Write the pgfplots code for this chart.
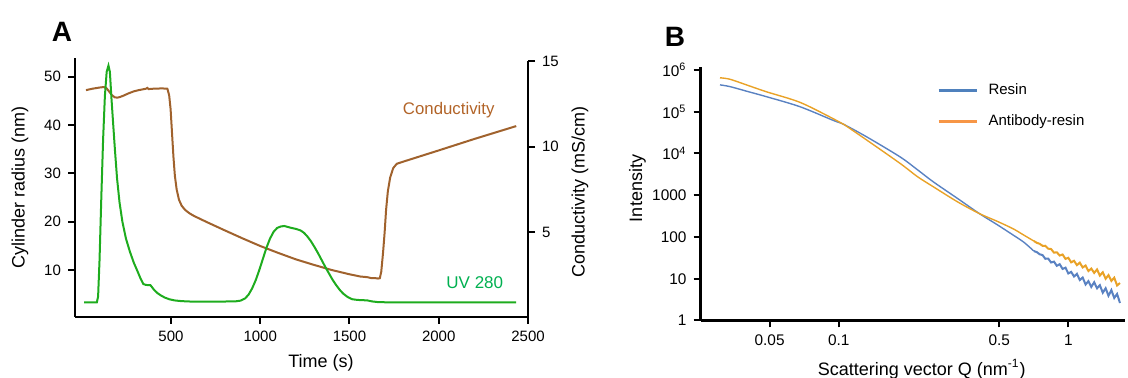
\documentclass[border=0pt]{standalone}
\usepackage{pgfplots}
\pgfplotsset{compat=1.18}
\usepackage{fontspec}
\setmainfont{Liberation Sans}
\definecolor{uvgreen}{RGB}{30,172,30}
\definecolor{uvtext}{RGB}{0,176,80}
\definecolor{condbrown}{RGB}{160,98,45}
\definecolor{condtext}{RGB}{178,100,40}
\definecolor{resinblue}{RGB}{90,130,194}
\definecolor{abyorange}{RGB}{233,162,39}
\definecolor{legblue}{RGB}{79,129,189}
\definecolor{legorange}{RGB}{247,150,70}
\begin{document}
\begin{tikzpicture}
\path[use as bounding box] (0,0) rectangle (564pt,189pt);
\pgfplotsset{every axis/.append style={scale only axis,
  font=\fontsize{7.5}{9}\selectfont,
  tick align=outside, major tick length=3.5pt,
  tick style={black, line width=1pt},
  minor tick style={draw=none},
  axis line style={black, line width=1.3pt}}}
% ---------------- Panel A, right axis (conductivity)
\begin{axis}[at={(37.5pt,30.5pt)}, anchor=south west, width=226.5pt, height=128pt,
  xmin=-37.4, xmax=2500, ymin=0.056, ymax=15,
  axis x line=none, axis y line*=right,
  ytick={5,10,15}, yticklabels={5,10,15}]
\addplot[condbrown, line width=1pt] coordinates {
(24,13.3)(60,13.38)(100,13.45)(125,13.48)(140,13.4)(155,13.2)(170,13.0)(185,12.88)
(200,12.86)(215,12.9)(235,12.98)(260,13.1)(290,13.22)(320,13.3)(345,13.35)(360,13.38)
(368,13.43)(375,13.36)(400,13.38)(450,13.4)(480,13.38)(490,13.0)(498,12.2)(506,10.8)
(514,9.4)(522,8.3)(532,7.5)(545,6.9)(560,6.55)(580,6.3)(605,6.1)(630,5.95)(700,5.6)
(800,5.12)(900,4.65)(1000,4.2)(1100,3.8)(1200,3.42)(1300,3.1)(1400,2.8)(1500,2.55)
(1560,2.42)(1600,2.38)(1620,2.33)(1640,2.33)(1660,2.3)(1670,2.32)(1678,2.7)(1688,3.8)
(1697,5.0)(1705,6.3)(1715,7.4)(1728,8.2)(1745,8.75)(1765,9.0)(1800,9.12)(2000,9.78)
(2200,10.45)(2434,11.2)};
\end{axis}
% ---------------- Panel A, left axis (UV / cylinder radius)
\begin{axis}[at={(37.5pt,30.5pt)}, anchor=south west, width=226.5pt, height=129.5pt,
  xmin=-37.4, xmax=2500, ymin=0.27, ymax=53.87,
  axis x line*=bottom, axis y line*=left,
  xtick={500,1000,1500,2000,2500}, xticklabels={500,1000,1500,2000,2500},
  ytick={10,20,30,40,50}, yticklabels={10,20,30,40,50},
  clip=false]
\addplot[uvgreen, line width=1pt] coordinates {
(14,3.3)(85,3.3)(92,4.5)(100,12)(110,25)(120,37)(130,46)(140,51)(150,52.3)(158,51)
(166,46)(175,41)(186,35)(198,29)(212,24)(228,20)(248,16.5)(270,13.8)(292,11.5)(312,9.8)
(330,8.2)(345,7.1)(360,6.9)(385,6.85)(395,6.4)(405,5.9)(425,5.2)(445,4.7)(465,4.3)
(490,3.95)(520,3.7)(560,3.55)(620,3.45)(750,3.45)(860,3.5)(890,3.65)(915,4.1)(935,4.9)
(955,6.2)(975,7.9)(995,10.0)(1015,12.3)(1035,14.6)(1055,16.5)(1075,17.9)(1095,18.7)
(1115,19.0)(1135,19.1)(1155,18.9)(1175,18.7)(1200,18.5)(1225,18.2)(1245,17.7)(1265,16.9)
(1285,15.9)(1305,14.7)(1325,13.4)(1345,12.0)(1365,10.6)(1385,9.3)(1405,8.0)(1425,6.9)
(1445,5.9)(1465,5.1)(1490,4.4)(1515,3.95)(1545,3.8)(1575,3.75)(1600,3.7)(1625,3.5)
(1660,3.35)(1720,3.3)(2434,3.3)};
\node[text=condtext, font=\fontsize{8.4}{10}\selectfont] at (axis cs:2056,43.1) {Conductivity};
\node[text=uvtext, font=\fontsize{8.5}{10}\selectfont] at (axis cs:2202,7.44) {UV 280};
\end{axis}
% ---------------- Panel B
\begin{axis}[at={(350.25pt,28.75pt)}, anchor=south west, width=212.25pt, height=126.9pt,
  xmode=log, ymode=log, xmin=0.025, xmax=1.766, ymin=1, ymax=1.2e6,
  axis x line*=bottom, axis y line*=left,
  axis line style={line width=1.6pt},
  font=\fontsize{7.7}{9}\selectfont,
  xtick={0.05,0.1,0.5,1}, xticklabels={0.05,0.1,0.5,1},
  ytick={1,10,100,1000,10000,100000,1000000},
  yticklabels={1,10,100,1000,10\textsuperscript{4},10\textsuperscript{5},10\textsuperscript{6}},
  legend style={draw=none, fill=none, at={(axis description cs:0.556,0.95)}, anchor=north west,
    font=\fontsize{7.5}{9}\selectfont, row sep=4.5pt, inner sep=0pt, cells={anchor=west}},
  legend image code/.code={\draw[#1, line width=1.6pt] (0pt,0pt) -- (19pt,0pt);
    \path[draw=none] (0pt,0pt) -- (23pt,0pt);}]
\addlegendimage{legblue}
\addlegendentry{Resin}
\addlegendimage{legorange}
\addlegendentry{Antibody-resin}
\addplot[resinblue, line width=0.7pt, smooth, forget plot] coordinates {
(0.0304,4.4e5)(0.0336,4.0e5)(0.0406,3.0e5)(0.0485,2.29e5)(0.0678,1.32e5)(0.0947,6.2e4)
(0.105,5.0e4)(0.1324,2.5e4)(0.185,8.3e3)(0.22,4.1e3)(0.258,2.1e3)(0.33,830)(0.41,363)
(0.488,200)(0.574,112)(0.64,75)(0.708,46)};
\addplot[resinblue, line width=1.0pt, forget plot] coordinates {
(0.708,46)(0.729,43.4)(0.750,38.6)(0.772,36.9)(0.794,30.1)(0.818,30.3)(0.841,24.5)
(0.866,25.7)(0.891,20.4)(0.917,22.3)(0.944,17.2)(0.972,18.4)(1.000,13.4)(1.029,14.6)
(1.059,11.3)(1.090,13.1)(1.122,9.31)(1.155,10.7)(1.189,7.28)(1.223,8.75)(1.259,6.37)
(1.296,8.24)(1.334,5.9)(1.372,7.0)(1.413,4.63)(1.454,5.92)(1.496,3.91)(1.540,5.34)
(1.585,3.46)(1.631,4.32)(1.679,2.63)};
\addplot[abyorange, line width=0.7pt, smooth, forget plot] coordinates {
(0.0304,6.5e5)(0.0336,6.0e5)(0.0406,4.2e5)(0.0485,3.0e5)(0.0678,1.68e5)(0.0947,6.8e4)
(0.105,5.0e4)(0.1324,2.1e4)(0.185,5.8e3)(0.22,2.8e3)(0.258,1.6e3)(0.33,690)(0.41,363)
(0.488,240)(0.574,158)(0.64,111)(0.708,80.0)};
\addplot[abyorange, line width=1.0pt, forget plot] coordinates {
(0.708,80.0)(0.729,72.6)(0.750,68.8)(0.772,61.6)(0.794,61.7)(0.818,52.4)(0.841,51.6)
(0.866,42.1)(0.891,43.0)(0.917,36.0)(0.944,38.1)(0.972,29.9)(1.000,31.8)(1.029,24.7)
(1.059,26.9)(1.090,21.2)(1.122,24.3)(1.155,18.6)(1.189,20.7)(1.223,15.3)(1.259,17.5)
(1.296,13.8)(1.334,16.7)(1.372,11.9)(1.413,14.3)(1.454,10.0)(1.496,12.2)(1.540,8.85)
(1.585,10.6)(1.631,6.9)(1.679,7.9)};
\end{axis}
% ---------------- labels
\node[font=\bfseries\fontsize{14}{16}\selectfont] at (31pt,173pt) {A};
\node[font=\bfseries\fontsize{14}{16}\selectfont] at (337.5pt,170.5pt) {B};
\node[rotate=90, font=\fontsize{9}{11}\selectfont] at (10pt,95.25pt) {Cylinder radius (nm)};
\node[font=\fontsize{9}{11}\selectfont] at (160.5pt,7.5pt) {Time (s)};
\node[rotate=90, font=\fontsize{9}{11}\selectfont] at (290pt,93pt) {Conductivity (mS/cm)};
\node[rotate=90, font=\fontsize{9}{11}\selectfont] at (318.75pt,94.75pt) {Intensity};
\node[font=\fontsize{9}{11}\selectfont] at (460.85pt,4.5pt) {Scattering vector Q (nm\textsuperscript{-1})};
\end{tikzpicture}
\end{document}
